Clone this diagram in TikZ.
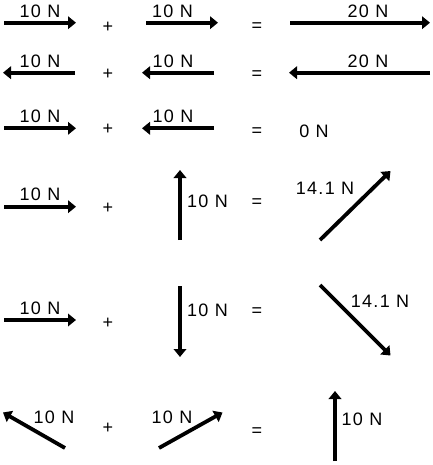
\documentclass[tikz,border=0pt]{standalone}
\usepackage{fontspec}
\setmainfont{Liberation Sans}
\usetikzlibrary{arrows.meta}
\begin{document}
\begin{tikzpicture}[x=1pt,y=-1pt,
  vec/.style={line width=3.8pt,-{Triangle[length=8pt,width=12.5pt]}},
  lbl/.style={font=\fontsize{18}{21}\selectfont\addfontfeatures{LetterSpace=7},inner sep=0pt},
  op/.style={font=\fontsize{18}{21}\selectfont,inner sep=0pt}]
\useasboundingbox (0,0) rectangle (432,465);
% row 1
\coordinate (a1s) at (4,22.7);   \coordinate (a1e) at (76,22.7);
\coordinate (a2s) at (146,22.7); \coordinate (a2e) at (218,22.7);
\coordinate (a3s) at (290,22.7); \coordinate (a3e) at (430,22.7);
\draw[vec] (a1s) -- (a1e);
\draw[vec] (a2s) -- (a2e);
\draw[vec] (a3s) -- (a3e);
\node[lbl] (la1) at (40,11) {10 N};
\node[lbl] (la2) at (172.5,11) {10 N};
\node[lbl] (la3) at (368,11) {20 N};
\node[op] (pa) at (108,27) {+};
\node[op] (ea) at (257,27) {=};
% row 2
\coordinate (b1s) at (75,72.7);  \coordinate (b1e) at (3,72.7);
\coordinate (b2s) at (214,72.7); \coordinate (b2e) at (142,72.7);
\coordinate (b3s) at (430,72.7); \coordinate (b3e) at (289,72.7);
\draw[vec] (b1s) -- (b1e);
\draw[vec] (b2s) -- (b2e);
\draw[vec] (b3s) -- (b3e);
\node[lbl] (lb1) at (40,61) {10 N};
\node[lbl] (lb2) at (173,61) {10 N};
\node[lbl] (lb3) at (368,61) {20 N};
\node[op] (pb) at (108,74) {+};
\node[op] (eb) at (257,75) {=};
% row 3
\coordinate (c1s) at (4,128.3);   \coordinate (c1e) at (76,128.3);
\coordinate (c2s) at (214,128.3); \coordinate (c2e) at (142,128.3);
\draw[vec] (c1s) -- (c1e);
\draw[vec] (c2s) -- (c2e);
\node[lbl] (lc1) at (40,116.5) {10 N};
\node[lbl] (lc2) at (173,116.5) {10 N};
\node[lbl] (lc3) at (314,131.5) {0 N};
\node[op] (pc) at (108,129) {+};
\node[op] (ec) at (257,131.7) {=};
% row 4
\coordinate (d1s) at (4,206.7);   \coordinate (d1e) at (76,206.7);
\coordinate (d2s) at (180,240);   \coordinate (d2e) at (180,170);
\coordinate (d3s) at (320,240);   \coordinate (d3e) at (390.5,171);
\draw[vec] (d1s) -- (d1e);
\draw[vec] (d2s) -- (d2e);
\draw[vec] (d3s) -- (d3e);
\node[lbl] (ld1) at (40,194.5) {10 N};
\node[lbl] (ld2) at (207.5,201) {10 N};
\node[lbl] (ld3) at (325,188) {14.1 N};
\node[op] (pd) at (108,208) {+};
\node[op] (ed) at (257,203) {=};
% row 5
\coordinate (e1s) at (4,320);     \coordinate (e1e) at (76,320);
\coordinate (e2s) at (180,286);   \coordinate (e2e) at (180,357);
\coordinate (e3s) at (320,285);   \coordinate (e3e) at (390.5,355.5);
\draw[vec] (e1s) -- (e1e);
\draw[vec] (e2s) -- (e2e);
\draw[vec] (e3s) -- (e3e);
\node[lbl] (le1) at (40,308.5) {10 N};
\node[lbl] (le2) at (207.5,310) {10 N};
\node[lbl] (le3) at (380,301.5) {14.1 N};
\node[op] (pe) at (108,323) {+};
\node[op] (ee) at (257,311.7) {=};
% row 6
\coordinate (f1s) at (65,448);    \coordinate (f1e) at (3,412.5);
\coordinate (f2s) at (159,448);   \coordinate (f2e) at (222.5,412.5);
\coordinate (f3s) at (335,461);   \coordinate (f3e) at (335,391);
\draw[vec] (f1s) -- (f1e);
\draw[vec] (f2s) -- (f2e);
\draw[vec] (f3s) -- (f3e);
\node[lbl] (lf1) at (54,417.5) {10 N};
\node[lbl] (lf2) at (172,417.5) {10 N};
\node[lbl] (lf3) at (362,419.5) {10 N};
\node[op] (pf) at (108,428) {+};
\node[op] (ef) at (257,432) {=};
\end{tikzpicture}
\end{document}
